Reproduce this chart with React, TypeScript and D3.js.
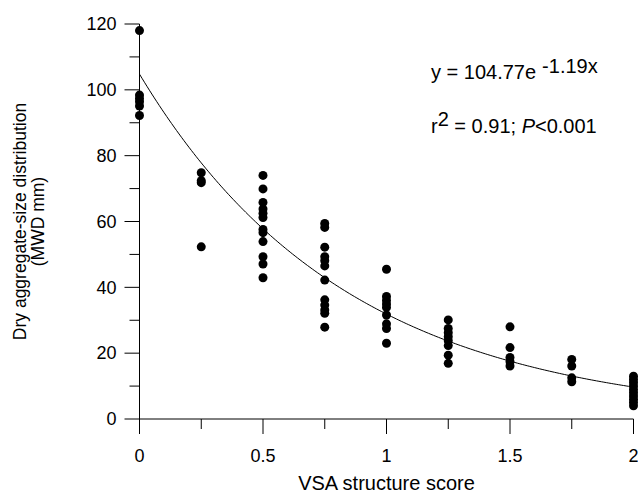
import React from "react";
import * as d3 from "d3";

const scores = [0, 0.25, 0.5, 0.75, 1, 1.25, 1.5, 1.75, 2];
const mwd000 = [118, 98.4, 97.4, 96.4, 95.1, 92.2];
const mwd025 = [74.8, 72.4, 71.8, 52.3];
const mwd050 = [74.0, 69.9, 65.8, 63.8, 62.5, 61.2, 57.6, 56.6, 53.9, 49.3, 47.1, 42.9];
const mwd075 = [59.4, 58.2, 52.2, 49.3, 48.1, 46.5, 42.2, 36.2, 34.6, 33.1, 32.1, 27.9];
const mwd100 = [45.5, 37.2, 36.0, 34.9, 33.9, 31.6, 28.9, 27.5, 23.0];
const mwd125 = [30.1, 27.5, 26.2, 25.0, 23.8, 22.3, 19.4, 16.9];
const mwd150 = [28.0, 21.7, 18.7, 17.4, 16.1];
const mwd175 = [18.1, 16.1, 12.5, 11.3];
const mwd200 = [13, 12, 11, 10, 9, 8, 7, 6, 5, 4];
const groups = [mwd000, mwd025, mwd050, mwd075, mwd100, mwd125, mwd150, mwd175, mwd200];

const xMajorTicks = [0, 0.5, 1, 1.5, 2];
const xTickLabels = ["0", "0.5", "1", "1.5", "2"];
const xMinorTicks = [0.25, 0.75, 1.25, 1.75];
const yMajorTicks = [0, 20, 40, 60, 80, 100, 120];
const yMinorTicks = [10, 30, 50, 70, 90, 110];

const fitA = 104.77;
const fitB = -1.19;

const W = 638;
const H = 494;

export default function App() {
  const x = d3.scaleLinear().domain([0, 2]).range([139.5, 633.5]);
  const y = d3.scaleLinear().domain([0, 120]).range([419, 24]);
  const font = "'Liberation Sans', Arial, Helvetica, sans-serif";

  const curveX = d3.range(0, 2.0001, 0.01);
  const line = d3
    .line<number>()
    .x((d) => x(d))
    .y((d) => y(fitA * Math.exp(fitB * d)));

  const points: { sx: number; v: number }[] = [];
  groups.forEach((g, i) => g.forEach((v) => points.push({ sx: scores[i], v })));

  const yMid = (y(0) + y(120)) / 2;

  return (
    <svg
      width={W}
      height={H}
      style={{ position: "absolute", left: 0, top: 0, background: "#fff" }}
      fontFamily={font}
    >
      <rect x={0} y={0} width={W} height={H} fill="#fff" />
      {/* axes */}
      <line x1={x(0)} x2={x(0)} y1={y(120)} y2={y(0)} stroke="#000" strokeWidth={1} />
      <line x1={x(0)} x2={x(2)} y1={y(0)} y2={y(0)} stroke="#000" strokeWidth={1} />
      {yMajorTicks.map((t) => (
        <g key={"ym" + t}>
          <line x1={x(0) - 15} x2={x(0)} y1={y(t)} y2={y(t)} stroke="#000" />
          <text x={x(0) - 23} y={y(t)} dy="0.35em" textAnchor="end" fontSize={18}>
            {t}
          </text>
        </g>
      ))}
      {yMinorTicks.map((t) => (
        <line key={"yn" + t} x1={x(0) - 10} x2={x(0)} y1={y(t)} y2={y(t)} stroke="#000" />
      ))}
      {xMajorTicks.map((t, i) => (
        <g key={"xm" + t}>
          <line x1={x(t)} x2={x(t)} y1={y(0)} y2={y(0) + 15} stroke="#000" />
          <text x={x(t)} y={462} textAnchor="middle" fontSize={18}>
            {xTickLabels[i]}
          </text>
        </g>
      ))}
      {xMinorTicks.map((t) => (
        <line key={"xn" + t} x1={x(t)} x2={x(t)} y1={y(0)} y2={y(0) + 10} stroke="#000" />
      ))}
      {/* fitted curve */}
      <path d={line(curveX) || ""} fill="none" stroke="#000" strokeWidth={1} />
      {/* points */}
      {points.map((p, i) => (
        <circle key={i} cx={x(p.sx)} cy={y(p.v)} r={4.5} fill="#000" />
      ))}
      {/* axis titles */}
      <text x={386.5} y={490} textAnchor="middle" fontSize={20}>
        VSA structure score
      </text>
      <g transform={`translate(26,${yMid}) rotate(-90)`}>
        <text x={0} y={0} textAnchor="middle" fontSize={17.5}>
          Dry aggregate-size distribution
        </text>
        <text x={0} y={18} textAnchor="middle" fontSize={17.5}>
          (MWD mm)
        </text>
      </g>
      {/* equation */}
      <text x={431} y={79} fontSize={20}>
        y = 104.77e
        <tspan dx={6} dy={-6}>-1.19x</tspan>
      </text>
      <text x={431} y={133} fontSize={20}>
        r
        <tspan dy={-7}>2</tspan>
        <tspan dy={7}> = 0.91; </tspan>
        <tspan fontStyle="italic">P</tspan>
        <tspan>{"<0.001"}</tspan>
      </text>
    </svg>
  );
}
